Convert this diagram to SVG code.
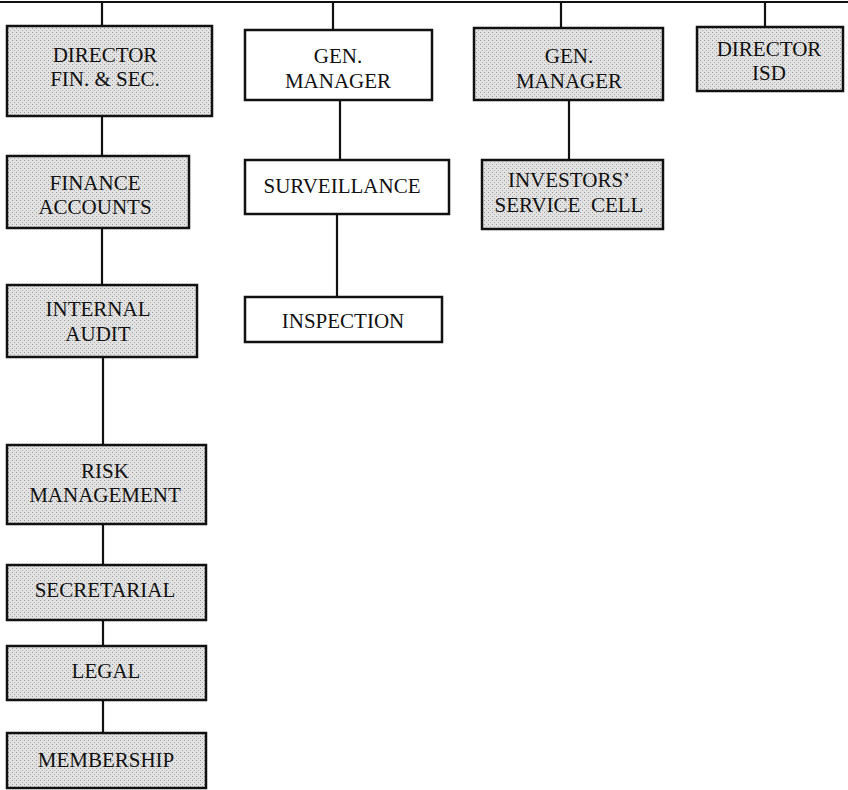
<svg xmlns="http://www.w3.org/2000/svg" width="848" height="790" viewBox="0 0 848 790">
  <defs>
    <pattern id="stipple" width="4" height="4" patternUnits="userSpaceOnUse">
      <rect width="4" height="4" fill="#e2e2e2"/>
      <rect x="0" y="0" width="1" height="1" fill="#9a9a9a"/>
      <rect x="2" y="2" width="1" height="1" fill="#b0b0b0"/>
    </pattern>
    <style>
      .box { stroke: #111; stroke-width: 2.5; }
      .grey { fill: url(#stipple); }
      .white { fill: #ffffff; }
      .lbl { font-family: "Liberation Serif", "DejaVu Serif", serif; font-size: 21px; fill: #111; text-anchor: middle; }
      .conn { stroke: #111; stroke-width: 2.2; fill: none; }
    </style>
  </defs>
  <rect width="848" height="790" fill="#ffffff"/>

  <g id="connectors">
    <line class="conn" x1="0" y1="2" x2="848" y2="2"/>
    <line class="conn" x1="102" y1="2" x2="102" y2="26"/>
    <line class="conn" x1="333" y1="2" x2="333" y2="30"/>
    <line class="conn" x1="561" y1="2" x2="561" y2="28"/>
    <line class="conn" x1="765" y1="2" x2="765" y2="27"/>
    <line class="conn" x1="102" y1="116" x2="102" y2="156"/>
    <line class="conn" x1="102" y1="228" x2="102" y2="285"/>
    <line class="conn" x1="103" y1="357" x2="103" y2="445"/>
    <line class="conn" x1="103" y1="524" x2="103" y2="565"/>
    <line class="conn" x1="103" y1="620" x2="103" y2="646"/>
    <line class="conn" x1="103" y1="700" x2="103" y2="733"/>
    <line class="conn" x1="340" y1="100" x2="340" y2="160"/>
    <line class="conn" x1="337" y1="214" x2="337" y2="297"/>
    <line class="conn" x1="569" y1="100" x2="569" y2="160"/>
  </g>

  <g id="director-fin-sec">
    <rect class="box grey" x="7" y="26" width="205" height="90"/>
    <text class="lbl" x="105" y="62">DIRECTOR</text>
    <text class="lbl" x="105" y="86">FIN. &amp; SEC.</text>
  </g>
  <g id="gen-manager-1">
    <rect class="box white" x="245" y="30" width="187" height="70"/>
    <text class="lbl" x="338" y="63">GEN.</text>
    <text class="lbl" x="338" y="88">MANAGER</text>
  </g>
  <g id="gen-manager-2">
    <rect class="box grey" x="474" y="28" width="189" height="72"/>
    <text class="lbl" x="569" y="63">GEN.</text>
    <text class="lbl" x="569" y="88">MANAGER</text>
  </g>
  <g id="director-isd">
    <rect class="box grey" x="697" y="27" width="146" height="64"/>
    <text class="lbl" x="769" y="56">DIRECTOR</text>
    <text class="lbl" x="769" y="80">ISD</text>
  </g>
  <g id="finance-accounts">
    <rect class="box grey" x="7" y="156" width="182" height="72"/>
    <text class="lbl" x="95" y="190">FINANCE</text>
    <text class="lbl" x="95" y="214">ACCOUNTS</text>
  </g>
  <g id="surveillance">
    <rect class="box white" x="245" y="160" width="204" height="54"/>
    <text class="lbl" x="342" y="193">SURVEILLANCE</text>
  </g>
  <g id="investors-service-cell">
    <rect class="box grey" x="482" y="160" width="181" height="69"/>
    <text class="lbl" x="569" y="187">INVESTORS’</text>
    <text class="lbl" x="569" y="212" xml:space="preserve">SERVICE  CELL</text>
  </g>
  <g id="internal-audit">
    <rect class="box grey" x="7" y="285" width="190" height="72"/>
    <text class="lbl" x="98" y="316">INTERNAL</text>
    <text class="lbl" x="98" y="341">AUDIT</text>
  </g>
  <g id="inspection">
    <rect class="box white" x="245" y="297" width="197" height="45"/>
    <text class="lbl" x="343" y="328">INSPECTION</text>
  </g>
  <g id="risk-management">
    <rect class="box grey" x="7" y="445" width="199" height="79"/>
    <text class="lbl" x="105" y="478">RISK</text>
    <text class="lbl" x="105" y="502">MANAGEMENT</text>
  </g>
  <g id="secretarial">
    <rect class="box grey" x="7" y="565" width="199" height="55"/>
    <text class="lbl" x="105" y="597">SECRETARIAL</text>
  </g>
  <g id="legal">
    <rect class="box grey" x="7" y="646" width="199" height="54"/>
    <text class="lbl" x="106" y="678">LEGAL</text>
  </g>
  <g id="membership">
    <rect class="box grey" x="7" y="733" width="199" height="55"/>
    <text class="lbl" x="106" y="767">MEMBERSHIP</text>
  </g>
</svg>
